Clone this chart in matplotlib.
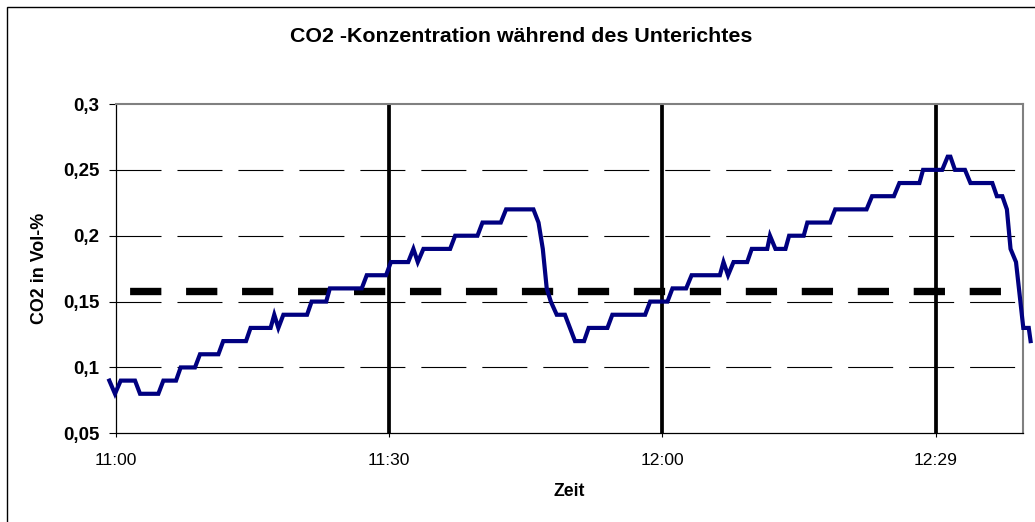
import numpy as np
import matplotlib as mpl
mpl.use('Agg')
import matplotlib.pyplot as plt
from matplotlib.patches import Rectangle

plt.rcParams['font.family'] = ['Liberation Sans', 'DejaVu Sans']
plt.rcParams['lines.scale_dashes'] = False

# minutes after 11:00 and CO2 in Vol-%
t_min = [-0.7, -0.08, 0.55, 2.12, 2.67, 4.68, 5.23, 6.62, 7.13, 8.7, 9.25, 11.27,
         11.8, 14.3, 14.8, 17.0, 17.4, 17.85, 18.4, 21.0, 21.5, 23.1, 23.5, 27.0,
         27.55, 29.67, 30.2, 32.1, 32.67, 33.15, 33.77, 36.7, 37.25, 39.7, 40.25,
         42.26, 42.84, 45.84, 46.4, 46.87, 47.3, 47.75, 48.4, 49.3, 50.4, 51.4,
         51.9, 53.96, 54.5, 58.1, 58.65, 60.55, 61.1, 62.6, 63.2, 66.3, 66.7, 67.2,
         67.8, 69.3, 69.8, 71.5, 71.8, 72.4, 73.5, 73.9, 75.5, 75.9, 78.4, 78.96,
         82.4, 83.0, 85.4, 86.0, 88.2, 88.6, 90.7, 91.3, 91.6, 92.1, 93.2, 93.8,
         96.2, 96.7, 97.3, 97.8, 98.2, 98.8, 99.6, 100.2, 100.4]
co2 = [0.09, 0.08, 0.09, 0.09, 0.08, 0.08, 0.09, 0.09, 0.10, 0.10, 0.11, 0.11,
       0.12, 0.12, 0.13, 0.13, 0.14, 0.13, 0.14, 0.14, 0.15, 0.15, 0.16, 0.16,
       0.17, 0.17, 0.18, 0.18, 0.19, 0.18, 0.19, 0.19, 0.20, 0.20, 0.21,
       0.21, 0.22, 0.22, 0.21, 0.19, 0.16, 0.15, 0.14, 0.14, 0.12, 0.12,
       0.13, 0.13, 0.14, 0.14, 0.15, 0.15, 0.16, 0.16, 0.17, 0.17, 0.18, 0.17,
       0.18, 0.18, 0.19, 0.19, 0.20, 0.19, 0.19, 0.20, 0.20, 0.21, 0.21, 0.22,
       0.22, 0.23, 0.23, 0.24, 0.24, 0.25, 0.25, 0.26, 0.26, 0.25, 0.25, 0.24,
       0.24, 0.23, 0.23, 0.22, 0.19, 0.18, 0.13, 0.13, 0.12]
grenzwert = 0.158

xticks = [0, 30, 60, 90]
xlabels = ['11:00', '11:30', '12:00', '12:29']
yticks = [0.05, 0.1, 0.15, 0.2, 0.25, 0.3]
ylabels = ['0,05', '0,1', '0,15', '0,2', '0,25', '0,3']

fig = plt.figure(figsize=(10.35, 5.22), dpi=100)
fig.add_artist(Rectangle((7/1035, -0.1), 1.2, 1.1 - 7/522, transform=fig.transFigure,
                         fill=False, ec='black', lw=1.0))
ax = fig.add_axes([115.7/1035, 1-433.3/522, (1023.3-115.7)/1035, (433.3-104)/522])

ax.set_xlim(0, 99.6)
ax.set_ylim(0.05, 0.3)

for y in yticks[1:-1]:
    ax.axhline(y, color='black', lw=0.8, linestyle=(0, (32.4, 11.5)), zorder=1)
for x in xticks[1:]:
    ax.axvline(x, color='black', lw=2.7, zorder=2)

# period 56px, first dash after a 13.6px gap
ax.axhline(grenzwert, color='black', lw=5.3, solid_capstyle='butt',
           dash_capstyle='butt', linestyle=(30.5, (22.5, 17.8)), zorder=3)

ax.plot(t_min, co2, color='#000080', lw=3.0, clip_on=False, zorder=4,
        solid_joinstyle='miter')

ax.set_xticks(xticks)
ax.set_xticklabels(xlabels, fontsize=12.6)
ax.set_yticks(yticks)
ax.set_yticklabels(ylabels, fontsize=13.5, fontweight='bold')
ax.tick_params(axis='y', length=5, width=0.8, direction='out', pad=6.5)
ax.tick_params(axis='x', length=3, width=0.8, direction='out', pad=11)

for s in ['left', 'bottom']:
    ax.spines[s].set_color('black')
    ax.spines[s].set_linewidth(0.9)
for s in ['top', 'right']:
    ax.spines[s].set_color('#808080')
    ax.spines[s].set_linewidth(1.5)

fig.text(521/1035, 1-37/522, 'CO2 -Konzentration während des Unterichtes',
         ha='center', va='center', fontsize=15.4, fontweight='bold')
fig.text(39/1035, 1-268/522, 'CO2 in Vol-%', rotation=90, ha='center', va='center',
         fontsize=12.9, fontweight='bold')
fig.text(569/1035, 1-492/522, 'Zeit', ha='center', va='center',
         fontsize=12.7, fontweight='bold')

plt.savefig('out.png', dpi=100, facecolor='w')
